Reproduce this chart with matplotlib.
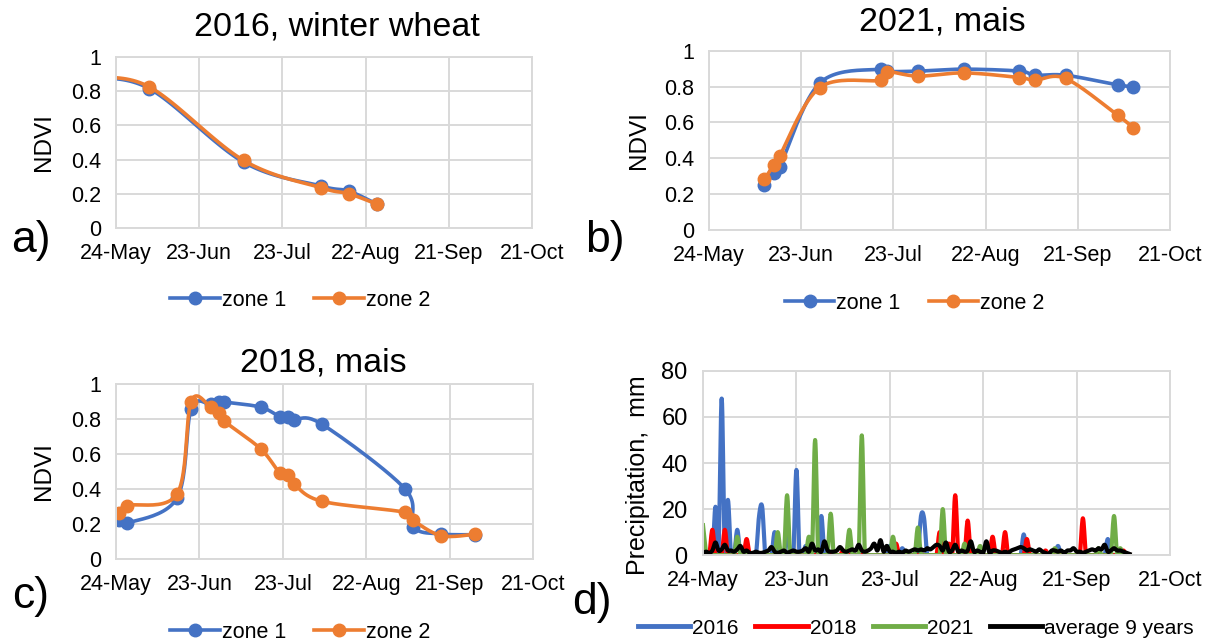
import numpy as np
import pandas as pd
import matplotlib
matplotlib.use('Agg')
import matplotlib.pyplot as plt
import matplotlib.dates as mdates
from matplotlib.lines import Line2D

plt.rcParams['font.family'] = ['Liberation Sans', 'DejaVu Sans']

BLUE = '#4472C4'
ORANGE = '#ED7D31'
RED = '#FF0000'
GREEN = '#70AD47'
GRID = '#D9D9D9'

# a) 2016, winter wheat
dates_2016 = ['2016-05-14', '2016-06-05', '2016-07-09', '2016-08-06', '2016-08-16', '2016-08-26']
ndvi_2016_z1 = [0.88, 0.815, 0.385, 0.245, 0.215, 0.14]
ndvi_2016_z2 = [0.88, 0.825, 0.395, 0.235, 0.20, 0.14]

# b) 2021, mais
dates_2021 = ['2021-06-11', '2021-06-14', '2021-06-16', '2021-06-29', '2021-07-19', '2021-07-21',
              '2021-07-31', '2021-08-15', '2021-09-02', '2021-09-07', '2021-09-17', '2021-10-04',
              '2021-10-09']
ndvi_2021_z1 = [0.25, 0.316, 0.353, 0.82, 0.898, 0.885, 0.887, 0.898, 0.887, 0.864, 0.864, 0.81, 0.80]
ndvi_2021_z2 = [0.283, 0.36, 0.415, 0.795, 0.836, 0.883, 0.859, 0.877, 0.851, 0.836, 0.846, 0.64, 0.57]

# c) 2018, mais
dates_2018 = ['2018-05-25', '2018-05-28', '2018-06-15', '2018-06-20', '2018-06-27', '2018-06-30',
              '2018-07-02', '2018-07-15', '2018-07-22', '2018-07-25', '2018-07-27', '2018-08-06',
              '2018-09-05', '2018-09-08', '2018-09-18', '2018-09-30']
ndvi_2018_z1 = [0.225, 0.205, 0.35, 0.857, 0.885, 0.90, 0.897, 0.868, 0.813, 0.81, 0.796, 0.771,
                0.40, 0.183, 0.143, 0.139]
ndvi_2018_z2 = [0.263, 0.305, 0.373, 0.90, 0.869, 0.834, 0.787, 0.63, 0.49, 0.478, 0.43, 0.33,
                0.267, 0.22, 0.133, 0.141]

# d) daily precipitation, mm, from 24-May
rain_2016 = [0, 0, 0, 0, 21, 3, 68, 2, 24, 0,
             0, 11, 0, 0, 0, 0, 0, 0, 17, 21,
             0, 0, 0, 10, 0, 0, 0, 11, 0, 0,
             37, 0, 0, 4, 0, 0, 0, 0, 17, 0,
             0, 0, 0, 0, 0, 0, 0, 0, 0, 0,
             0, 0, 0, 0, 0, 0, 0, 0, 0, 0,
             4, 0, 0, 0, 3, 0, 0, 0, 0, 0,
             17, 16, 0, 0, 0, 0, 5, 0, 0, 0,
             0, 0, 0, 0, 0, 0, 0, 0, 0, 2,
             0, 0, 0, 0, 0, 0, 0, 0, 0, 0,
             0, 0, 0, 9, 0, 0, 0, 0, 0, 0,
             0, 0, 0, 0, 4, 0, 0, 0, 0, 0,
             0, 0, 0, 0, 0, 0, 0, 0, 0, 0,
             7, 0, 0, 0, 0, 0, 0, 0]
rain_2018 = [6, 0, 0, 11, 0, 0, 0, 11, 0, 0,
             0, 0, 0, 0, 7, 0, 0, 0, 0, 0,
             0, 0, 0, 0, 0, 0, 2, 0, 0, 0,
             0, 0, 0, 0, 0, 0, 0, 0, 0, 0,
             0, 0, 0, 0, 0, 2, 0, 0, 0, 0,
             0, 0, 0, 0, 0, 0, 0, 0, 0, 0,
             0, 0, 5, 0, 0, 0, 0, 0, 0, 0,
             0, 0, 0, 0, 0, 0, 10, 0, 0, 5,
             0, 26, 0, 0, 0, 15, 0, 0, 0, 0,
             0, 0, 0, 8, 0, 0, 0, 10, 0, 0,
             0, 0, 0, 0, 7, 0, 0, 0, 0, 0,
             2, 0, 0, 0, 0, 0, 0, 0, 0, 0,
             0, 0, 16, 0, 0, 0, 0, 0, 0, 0,
             0, 0, 0, 0, 0, 2, 0, 0]
rain_2021 = [13, 1, 0, 0, 0, 0, 0, 0, 0, 0,
             0, 8, 0, 0, 0, 0, 0, 0, 0, 0,
             0, 0, 0, 0, 10, 0, 0, 26, 0, 0,
             0, 0, 0, 0, 8, 0, 50, 0, 0, 0,
             0, 18, 0, 0, 0, 0, 0, 11, 0, 0,
             0, 52, 0, 0, 0, 0, 0, 0, 0, 0,
             0, 8, 0, 0, 0, 0, 0, 0, 0, 12,
             0, 0, 0, 0, 0, 0, 0, 20, 0, 0,
             0, 0, 0, 0, 5, 0, 0, 0, 0, 4,
             0, 0, 0, 0, 0, 0, 0, 0, 0, 0,
             0, 0, 0, 0, 0, 0, 0, 0, 0, 0,
             0, 0, 0, 3, 0, 0, 0, 0, 0, 0,
             0, 0, 0, 0, 0, 0, 0, 3, 0, 0,
             0, 0, 17, 0, 3, 0, 0, 0]
rain_avg = [1, 1.5, 1, 2, 5.5, 2, 2.5, 4.5, 2, 2,
            1.5, 2.5, 4, 1.5, 2, 1, 1, 1.5, 1, 1,
            1.5, 2, 3.5, 1.5, 1, 1.5, 2, 1, 1.5, 2,
            1.5, 1.5, 2, 3, 1.5, 5, 2, 2.5, 1.5, 6,
            2, 1.5, 1.5, 2, 3.5, 2, 1.5, 2, 2.5, 2,
            4.5, 2, 1.5, 2, 3, 5, 2, 6.5, 1.5, 4,
            1.5, 1.5, 1, 1.5, 1, 2, 1.5, 2, 2.5, 2,
            2.5, 2, 3, 2.5, 3.5, 4.5, 4, 2, 5.5, 1.5,
            2, 4.5, 1.5, 2, 1.5, 2, 6, 1.5, 2, 1.5,
            1, 6, 1, 2, 2, 1.5, 1, 1.5, 1, 2,
            2.5, 3, 3.5, 3, 2, 2.5, 2, 1.5, 2.5, 1.5,
            1, 0.5, 2, 2, 1.5, 2, 1, 2, 2, 3,
            1.5, 1.5, 1, 1.5, 2, 2.5, 2, 3, 2.5, 4.5,
            1.5, 2, 3, 2, 2, 1.5, 1, 0.5]


def smooth(x, y, n=24):
    # Excel-like smoothed line (Bezier through the points)
    pts = np.column_stack([x, y]).astype(float)
    P = np.vstack([pts[0], pts, pts[-1]])
    t = np.linspace(0, 1, n)[:, None]
    segs = []
    for i in range(1, len(P) - 2):
        p0, p1, p2, p3 = P[i - 1], P[i], P[i + 1], P[i + 2]
        c1 = p1 + (p2 - p0) / 6
        c2 = p2 - (p3 - p1) / 6
        segs.append((1 - t) ** 3 * p1 + 3 * (1 - t) ** 2 * t * c1
                    + 3 * (1 - t) * t ** 2 * c2 + t ** 3 * p2)
    s = np.vstack(segs)
    return s[:, 0], s[:, 1]


def style_axes(ax, year):
    ticks = pd.date_range(f'{year}-05-24', periods=6, freq='30D')
    ax.set_xlim(ticks[0], ticks[-1])
    ax.set_xticks(ticks)
    ax.xaxis.set_major_formatter(mdates.DateFormatter('%d-%b'))
    ax.grid(True, color=GRID, lw=1.4)
    ax.set_axisbelow(True)
    for s in ax.spines.values():
        s.set_color(GRID)
        s.set_linewidth(1.4)
    ax.tick_params(length=0, labelsize=15.5, pad=11)


def ndvi_panel(ax, year, dates, z1, z2):
    x = mdates.date2num(pd.to_datetime(dates))
    for vals, col in [(z1, BLUE), (z2, ORANGE)]:
        sx, sy = smooth(x, vals)
        ax.plot(sx, sy, color=col, lw=2.6)
        ax.plot(x, vals, 'o', color=col, ms=9)
    style_axes(ax, year)
    ax.set_ylim(0, 1)
    ax.set_yticks([0, 0.2, 0.4, 0.6, 0.8, 1])
    ax.set_yticklabels(['0', '0.2', '0.4', '0.6', '0.8', '1'])
    ax.set_ylabel('NDVI', fontsize=17.5)


fig = plt.figure(figsize=(12.1, 6.44), dpi=100)
ax_a = fig.add_axes([0.0959, 0.646, 0.3438, 0.2655])
ax_b = fig.add_axes([0.586, 0.643, 0.381, 0.278])
ax_c = fig.add_axes([0.0959, 0.132, 0.3446, 0.2717])
ax_d = fig.add_axes([0.581, 0.138, 0.386, 0.286])

ndvi_panel(ax_a, 2016, dates_2016, ndvi_2016_z1, ndvi_2016_z2)
ndvi_panel(ax_b, 2021, dates_2021, ndvi_2021_z1, ndvi_2021_z2)
ndvi_panel(ax_c, 2018, dates_2018, ndvi_2018_z1, ndvi_2018_z2)
ax_a.yaxis.set_label_coords(-0.147, 0.5)
ax_b.yaxis.set_label_coords(-0.128, 0.5)
ax_c.yaxis.set_label_coords(-0.147, 0.5)

fig.text(0.2785, 0.958, '2016, winter wheat', fontsize=24.5, ha='center', va='center')
fig.text(0.7785, 0.966, '2021, mais', fontsize=24.5, ha='center', va='center')
fig.text(0.267, 0.436, '2018, mais', fontsize=24.5, ha='center', va='center')

zone_handles = [Line2D([], [], color=BLUE, lw=2.6, marker='o', ms=9),
                Line2D([], [], color=ORANGE, lw=2.6, marker='o', ms=9)]
for ax, pos in [(ax_a, (0.248, 0.534)), (ax_b, (0.756, 0.5295)), (ax_c, (0.248, 0.0186))]:
    ax.legend(zone_handles, ['zone 1', 'zone 2'], loc='center', bbox_to_anchor=pos,
              bbox_transform=fig.transFigure, ncol=2, frameon=False, fontsize=15.5,
              handlelength=2.3, handletextpad=0.1, columnspacing=1.3)

# d) precipitation
days = pd.date_range('2021-05-24', periods=len(rain_2016), freq='D')
xd = mdates.date2num(days)
rain_series = [(rain_2016, BLUE, '2016'), (rain_2018, RED, '2018'),
               (rain_2021, GREEN, '2021'), (rain_avg, 'black', 'average 9 years')]
for vals, col, lab in rain_series:
    sx, sy = smooth(xd, vals, n=10)
    ax_d.plot(sx, sy, color=col, lw=3.0, label=lab)
style_axes(ax_d, 2021)
ax_d.tick_params(axis='y', labelsize=17)
ax_d.set_ylim(0, 80)
ax_d.set_yticks([0, 20, 40, 60, 80])
ax_d.set_ylabel('Precipitation,  mm', fontsize=18)
ax_d.yaxis.set_label_coords(-0.113, 0.435)
leg = ax_d.legend(loc='center', bbox_to_anchor=(0.757, 0.0248), bbox_transform=fig.transFigure,
                  ncol=4, frameon=False, fontsize=15, handlelength=2.5, handletextpad=0.1,
                  columnspacing=0.8)
for h in leg.get_lines():
    h.set_linewidth(3.5)

fig.text(0.0256, 0.627, 'a)', fontsize=32, ha='center', va='center')
fig.text(0.50, 0.627, 'b)', fontsize=32, ha='center', va='center')
fig.text(0.0256, 0.073, 'c)', fontsize=32, ha='center', va='center')
fig.text(0.489, 0.065, 'd)', fontsize=32, ha='center', va='center')

fig.savefig('out.png', dpi=100)
